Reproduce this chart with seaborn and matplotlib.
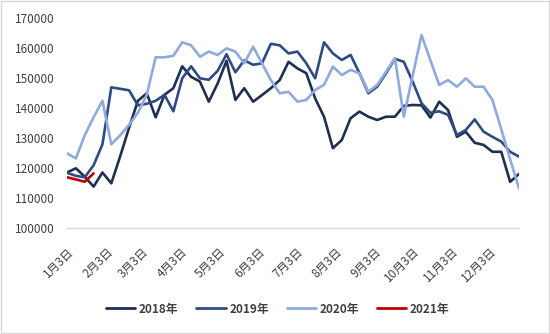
import numpy as np
import pandas as pd
import matplotlib
matplotlib.use("Agg")
import matplotlib.pyplot as plt
from matplotlib.patches import Rectangle
import seaborn as sns

# ---- data (weekly) ----
s2018 = [118600, 120000, 117200, 113900, 118600, 115000, 124000, 133500, 142500, 145000,
         137000, 144500, 146700, 154000, 150500, 148900, 142200, 148300, 155800, 142800,
         146700, 142200, 144400, 146700, 149400, 155500, 153300, 151700, 143300, 137200,
         126700, 129400, 136700, 138900, 137200, 136100, 137200, 137200, 140800, 141100,
         141000, 136900, 142200, 139400, 130500, 132200, 128500, 127800, 125500, 125500,
         115500, 118100]
s2019 = [118500, 117500, 117000, 121000, 128000, 147000, 146500, 146000, 141000, 141500,
         142500, 144500, 139000, 150000, 154000, 150000, 149500, 152500, 158000, 152000,
         156000, 154500, 155000, 161500, 161000, 158300, 158900, 155000, 150000, 162000,
         158300, 156100, 157800, 151700, 145000, 147200, 151700, 156500, 155500, 148900,
         141700, 138500, 139000, 137800, 131100, 132800, 136300, 132200, 130500, 128900,
         125500, 123900]
s2020 = [125000, 123300, 131000, 137000, 142500, 128000, 131000, 134500, 138500, 144500,
         157000, 157000, 157500, 162000, 161000, 157200, 158900, 157800, 160000, 158900,
         155000, 160500, 155000, 149400, 145000, 145500, 142200, 142800, 146100, 147800,
         153900, 151100, 152800, 151700, 145500, 147800, 152200, 156700, 137200, 150800,
         164400, 156000, 147800, 149400, 147200, 150000, 147200, 147200, 142800, 133000,
         123000, 113300]
s2021 = [117000, 116300, 115500, 118300]
years = ["2018年", "2019年", "2020年", "2021年"]
tick_labels = ["1月3日", "2月3日", "3月3日", "4月3日", "5月3日", "6月3日",
               "7月3日", "8月3日", "9月3日", "10月3日", "11月3日", "12月3日"]

dates = pd.date_range("2018-01-03", periods=52, freq="7D")
frames = []
for name, vals in zip(years, [s2018, s2019, s2020, s2021]):
    frames.append(pd.DataFrame({"date": dates[:len(vals)], "value": vals, "year": name}))
df = pd.concat(frames, ignore_index=True)

palette = {"2018年": "#1F2F4F", "2019年": "#2E4B82", "2020年": "#8FAADC", "2021年": "#C00000"}

sns.set_theme(style="white")
plt.rcParams["font.family"] = ["Noto Sans CJK SC", "DejaVu Sans"]

fig = plt.figure(figsize=(5.5, 3.34), dpi=100)
ax = fig.add_axes([67 / 550, 1 - 228.3 / 334, (519 - 67) / 550, (228.3 - 18.3) / 334])

sns.lineplot(data=df, x="date", y="value", hue="year", hue_order=years,
             palette=palette, linewidth=1.9, ax=ax, legend=True, sort=False)

ax.set_xlim(dates[0], dates[-1])
ax.set_ylim(100000, 170000)
ax.set_yticks(np.arange(100000, 170001, 10000))
ax.set_yticklabels([str(v) for v in range(100000, 170001, 10000)])
tick_dates = pd.date_range("2018-01-01", periods=12, freq="MS") + pd.Timedelta(days=2)
ax.set_xticks(tick_dates)
ax.set_xticklabels(tick_labels, rotation=45, ha="right", va="top", rotation_mode="anchor")
ax.set_xlabel("")
ax.set_ylabel("")

for sp in ["top", "right", "left"]:
    ax.spines[sp].set_visible(False)
ax.spines["bottom"].set_color("#D9D9D9")
ax.spines["bottom"].set_linewidth(1.0)
ax.tick_params(axis="y", length=0, pad=9, labelsize=8.5, labelcolor="#404040")
ax.tick_params(axis="x", length=0, pad=12, labelsize=8.5, labelcolor="#404040")
ax.grid(False)

handles, labels = ax.get_legend_handles_labels()
ax.legend_.remove()
leg = fig.legend(handles, labels, loc="center", bbox_to_anchor=(0.505, 1 - 309 / 334),
                 ncol=4, frameon=False, handlelength=2.5, handletextpad=0.3,
                 columnspacing=1.5, prop={"size": 8.5, "weight": "bold"})
for t in leg.get_texts():
    t.set_color("#404040")
for l in leg.get_lines():
    l.set_linewidth(2.0)

fig.patches.append(Rectangle((0.001, 0.002), 0.997, 0.995, transform=fig.transFigure,
                             fill=False, edgecolor="#D9D9D9", linewidth=1.0))

fig.savefig("out.png", dpi=100)
